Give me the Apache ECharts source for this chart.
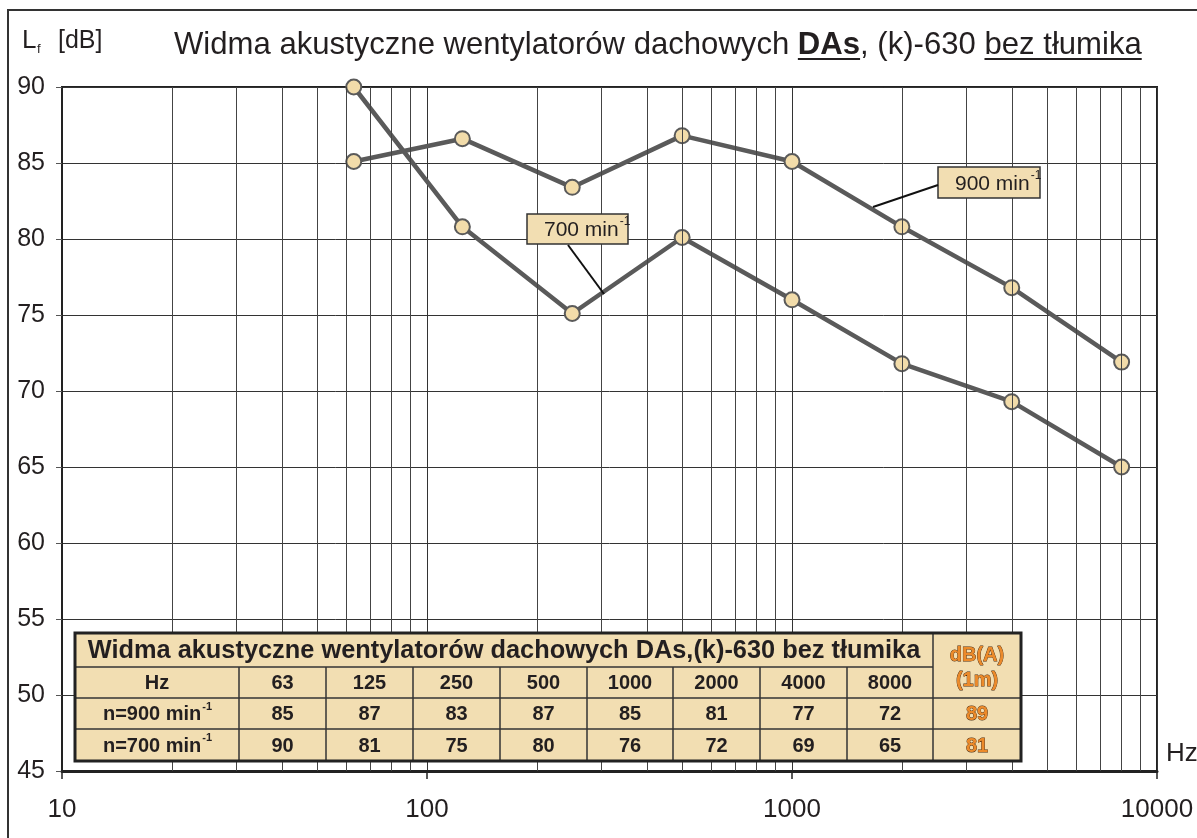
<!DOCTYPE html>
<html>
<head>
  <meta charset="UTF-8">
  <title>Widma akustyczne DAs (k)-630</title>
  <script src="https://cdn.jsdelivr.net/npm/echarts@6/dist/echarts.min.js"></script>
</head>
<body style="margin: 0; width: 1197px; height: 838px; background-color: #fff;">
  <div id="main" style="width: 1197px; height: 838px;"></div>
  <script type="text/javascript">
    // dane
    var freqs = [63, 125, 250, 500, 1000, 2000, 4000, 8000];
    var n900 = [85.1, 86.6, 83.4, 86.8, 85.1, 80.8, 76.8, 71.9];
    var n700 = [90, 80.8, 75.1, 80.1, 76.0, 71.8, 69.3, 65.0];
    // wartosci w tabeli
    var tab900 = [85, 87, 83, 87, 85, 81, 77, 72];
    var tab700 = [90, 81, 75, 80, 76, 72, 69, 65];
    var dbA = [89, 81];
    var xTicks = ['10', '100', '1000', '10000'];
    var minorGrid = [20, 30, 40, 50, 60, 70, 80, 90,
      200, 300, 400, 500, 600, 700, 800, 900,
      2000, 3000, 4000, 5000, 6000, 7000, 8000, 9000];

    var FONT = "'Liberation Sans', Arial, Helvetica, sans-serif";
    var TXT = '#231f20';
    var ORANGE = '#ec8a2a';
    var BEIGE = '#f2deb2';

    var ctx = document.createElement('canvas').getContext('2d');
    function tw(s, size, bold) {
      ctx.font = (bold ? 'bold ' : '') + size + 'px ' + FONT;
      return ctx.measureText(s).width;
    }
    function txt(x, y, s, size, opts) {
      opts = opts || {};
      return {
        type: 'text', z: 100, silent: true,
        style: {
          x: x, y: y, text: s,
          font: (opts.bold ? 'bold ' : '') + size + 'px ' + FONT,
          fill: opts.fill || TXT,
          stroke: opts.stroke, lineWidth: opts.lw || 0,
          align: opts.align || 'left', verticalAlign: opts.va || 'middle'
        }
      };
    }
    // tekst z indeksem gornym
    function supText(cx, cy, main, sup, size, supSize, bold, align) {
      var w1 = tw(main, size, bold), w2 = tw(sup, supSize, bold);
      var x0 = align === 'left' ? cx : cx - (w1 + w2) / 2;
      return [
        txt(x0, cy, main, size, { bold: bold }),
        txt(x0 + w1 + 1, cy - size * 0.38, sup, supSize, { bold: bold })
      ];
    }
    function line(x1, y1, x2, y2, w, c) {
      return { type: 'line', z: 100, silent: true, shape: { x1: x1, y1: y1, x2: x2, y2: y2 },
        style: { stroke: c || '#222', lineWidth: w } };
    }

    var graphics = [];
    // ramka
    graphics.push({ type: 'rect', z: 100, silent: true, shape: { x: 8, y: 10, width: 1200, height: 840 },
      style: { fill: null, stroke: '#333', lineWidth: 2 } });

    // tytul
    var parts = [
      ['Widma akustyczne wentylatorów dachowych ', false, false],
      ['DAs', true, true],
      [', (k)-630 ', false, false],
      ['bez tłumika', false, true]
    ];
    var tSize = 29;
    var total = 0;
    parts.forEach(function (p) { total += tw(p[0], tSize, p[1]); });
    tSize = tSize * 968 / total;
    total = 968;
    var tx = 658 - total / 2;
    parts.forEach(function (p) {
      var w = tw(p[0], tSize, p[1]);
      graphics.push(txt(tx, 45, p[0], tSize, { bold: p[1] }));
      if (p[2]) graphics.push(line(tx, 59, tx + w, 59, 2, TXT));
      tx += w;
    });

    // opis osi Y
    graphics.push(txt(22, 41, 'L', 26));
    graphics.push(txt(37, 49, 'f', 13));
    graphics.push(txt(58, 41, '[dB]', 25));
    // opis osi X
    graphics.push(txt(1166, 754, 'Hz', 26));

    // etykiety serii
    graphics.push({ type: 'rect', z: 100, silent: true, shape: { x: 527, y: 214, width: 101, height: 30 },
      style: { fill: BEIGE, stroke: '#333', lineWidth: 1.5 } });
    graphics = graphics.concat(supText(544, 230, '700 min', '-1', 21, 12, false, 'left'));
    graphics.push(line(568, 245, 604, 294, 2, '#111'));

    graphics.push({ type: 'rect', z: 100, silent: true, shape: { x: 938, y: 167, width: 102, height: 31 },
      style: { fill: BEIGE, stroke: '#333', lineWidth: 1.5 } });
    graphics = graphics.concat(supText(955, 184, '900 min', '-1', 21, 12, false, 'left'));
    graphics.push(line(938, 185, 873, 207, 2, '#111'));

    // tabela
    var cx = [75, 239, 326, 413, 500, 587, 673, 760, 847, 933, 1021];
    var ry = [633, 667, 698, 729, 761];
    graphics.push({ type: 'rect', z: 99, silent: true,
      shape: { x: cx[0], y: ry[0], width: cx[10] - cx[0], height: ry[4] - ry[0] },
      style: { fill: BEIGE, stroke: null } });
    graphics.push(line(cx[0], ry[1], cx[9], ry[1], 1.5, '#333'));
    graphics.push(line(cx[0], ry[2], cx[10], ry[2], 1.5, '#333'));
    graphics.push(line(cx[0], ry[3], cx[10], ry[3], 1.5, '#333'));
    for (var c = 1; c < 9; c++) graphics.push(line(cx[c], ry[1], cx[c], ry[4], 1.5, '#333'));
    graphics.push(line(cx[9], ry[0], cx[9], ry[4], 1.5, '#333'));
    graphics.push({ type: 'rect', z: 101, silent: true,
      shape: { x: cx[0], y: ry[0], width: cx[10] - cx[0], height: ry[4] - ry[0] },
      style: { fill: null, stroke: '#222', lineWidth: 3 } });

    var tabTitle = 'Widma akustyczne wentylatorów dachowych DAs,(k)-630 bez tłumika';
    var ttSize = 23 * 833 / tw(tabTitle, 23, true);
    graphics.push(txt((cx[0] + cx[9]) / 2, (ry[0] + ry[1]) / 2 + 1, tabTitle, ttSize, { bold: true, align: 'center' }));
    function mid(i) { return (cx[i] + cx[i + 1]) / 2; }
    function rmid(j) { return (ry[j] + ry[j + 1]) / 2 + 1; }
    var FS = 20;
    graphics.push(txt(mid(0), rmid(1), 'Hz', FS, { bold: true, align: 'center' }));
    graphics = graphics.concat(supText(mid(0), rmid(2), 'n=900 min', '-1', FS, 11, true));
    graphics = graphics.concat(supText(mid(0), rmid(3), 'n=700 min', '-1', FS, 11, true));
    for (var i = 0; i < freqs.length; i++) {
      graphics.push(txt(mid(i + 1), rmid(1), String(freqs[i]), FS, { bold: true, align: 'center' }));
      graphics.push(txt(mid(i + 1), rmid(2), String(tab900[i]), FS, { bold: true, align: 'center' }));
      graphics.push(txt(mid(i + 1), rmid(3), String(tab700[i]), FS, { bold: true, align: 'center' }));
    }
    var oStyle = { bold: true, align: 'center', fill: ORANGE, stroke: '#4a2a10', lw: 0.8 };
    graphics.push(txt(mid(9), 655, 'dB(A)', FS, oStyle));
    graphics.push(txt(mid(9), 680, '(1m)', FS, oStyle));
    graphics.push(txt(mid(9), rmid(2), String(dbA[0]), FS, oStyle));
    graphics.push(txt(mid(9), rmid(3), String(dbA[1]), FS, oStyle));

    function pairs(vals) { return freqs.map(function (f, i) { return [f, vals[i]]; }); }

    var lineSeries = {
      type: 'line', symbol: 'circle', symbolSize: 15, z: 3,
      lineStyle: { color: '#5a5a5a', width: 4.5 },
      itemStyle: { color: '#f2dcaa', borderColor: '#5a5a5a', borderWidth: 2 },
      emphasis: { disabled: true }
    };

    var myChart = echarts.init(document.getElementById('main'));
    var option = {
      backgroundColor: '#fff',
      animation: false,
      textStyle: { fontFamily: FONT },
      grid: { left: 62, top: 87, right: 40, bottom: 67, show: true, borderColor: '#222', borderWidth: 2 },
      xAxis: {
        type: 'log', logBase: 10, min: 10, max: 10000,
        axisLine: { lineStyle: { color: '#222', width: 3 } },
        axisTick: { show: true, length: 8, lineStyle: { color: '#222', width: 1.5 } },
        axisLabel: {
          fontSize: 26, color: TXT, margin: 26, fontFamily: FONT,
          formatter: function (v) {
            var k = Math.round(Math.log10(v)) - 1;
            return xTicks[k] !== undefined ? xTicks[k] : '';
          }
        },
        splitLine: { show: true, lineStyle: { color: '#333', width: 1 } },
        minorTick: { show: false }, minorSplitLine: { show: false }
      },
      yAxis: {
        type: 'value', min: 45, max: 90, interval: 5,
        axisLine: { show: true, lineStyle: { color: '#222', width: 2 } },
        axisTick: { show: true, length: 6, lineStyle: { color: '#555', width: 1 } },
        axisLabel: { fontSize: 25, color: TXT, margin: 17, fontFamily: FONT },
        splitLine: { show: true, lineStyle: { color: '#333', width: 1 } }
      },
      series: [
        {
          type: 'line', data: [], silent: true, z: 1,
          markLine: {
            silent: true, symbol: ['none', 'none'], animation: false,
            label: { show: false },
            lineStyle: { color: '#444', width: 1, type: 'solid' },
            emphasis: { disabled: true },
            data: minorGrid.map(function (v) { return { xAxis: v }; })
          }
        },
        Object.assign({ name: 'n=900 min-1', data: pairs(n900) }, lineSeries),
        Object.assign({ name: 'n=700 min-1', data: pairs(n700) }, lineSeries)
      ],
      graphic: graphics
    };
    myChart.setOption(option);
  </script>
</body>
</html>
